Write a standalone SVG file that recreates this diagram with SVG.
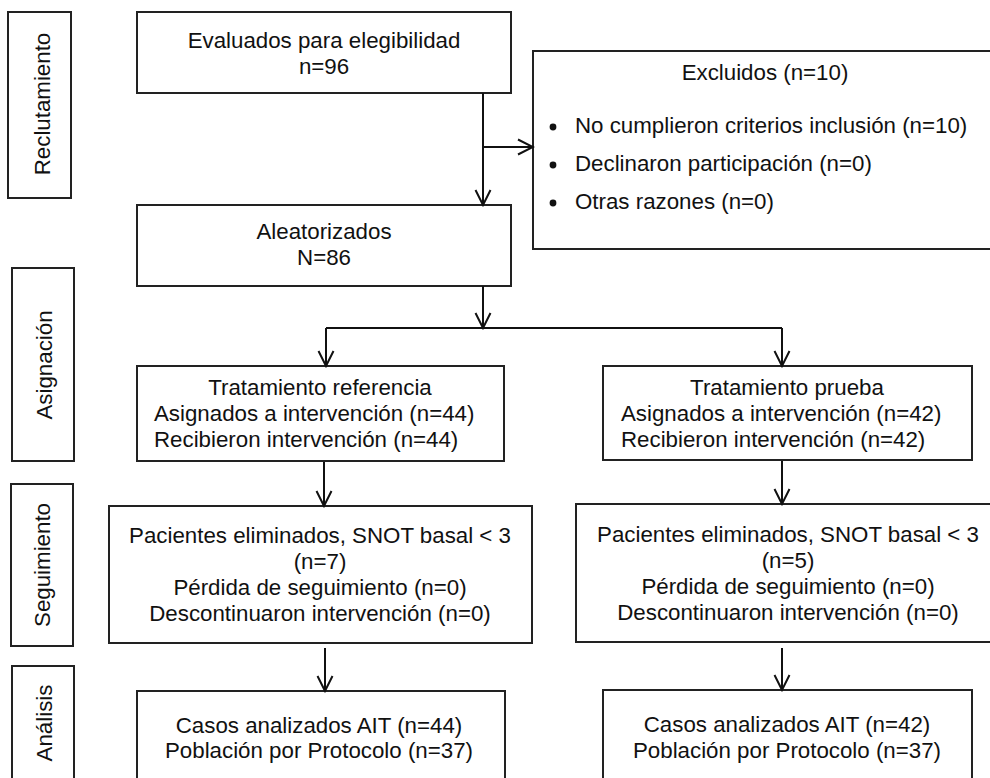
<svg xmlns="http://www.w3.org/2000/svg" width="990" height="778" viewBox="0 0 990 778">
<defs>
<style>
.box{fill:#fff;stroke:#222;stroke-width:2}
.t{font-family:"Liberation Sans",Arial,sans-serif;font-size:22.3px;fill:#111}
.c{text-anchor:middle}
.ln{fill:none;stroke:#111;stroke-width:2}
</style>
<marker id="ah" markerUnits="userSpaceOnUse" markerWidth="18" markerHeight="18" viewBox="0 0 18 18" refX="16" refY="9" orient="auto">
<path d="M1,1.5 L16,9 L1,16.5" fill="none" stroke="#111" stroke-width="2"/>
</marker>
</defs>
<rect width="990" height="778" fill="#fff"/>

<g id="label-reclutamiento">
<rect class="box" x="8" y="12" width="63" height="186"/>
<text class="t c" transform="translate(50,104) rotate(-90)">Reclutamiento</text>
</g>
<g id="label-asignacion">
<rect class="box" x="12" y="268" width="62" height="193"/>
<text class="t c" transform="translate(52,365) rotate(-90)">Asignación</text>
</g>
<g id="label-seguimiento">
<rect class="box" x="11" y="484" width="62" height="162"/>
<text class="t c" transform="translate(50,565) rotate(-90)">Seguimiento</text>
</g>
<g id="label-analisis">
<rect class="box" x="12" y="666" width="62" height="124"/>
<text class="t c" transform="translate(52,723) rotate(-90)">Análisis</text>
</g>

<g id="evaluados">
<rect class="box" x="137" y="12" width="374" height="81"/>
<text class="t c" x="324" y="48">Evaluados para elegibilidad</text>
<text class="t c" x="324" y="74">n=96</text>
</g>

<g id="excluidos">
<rect class="box" x="533" y="51" width="470" height="198"/>
<text class="t c" x="765" y="80">Excluidos (n=10)</text>
<circle cx="553" cy="127" r="3.4" fill="#111"/>
<text class="t" x="575" y="133">No cumplieron criterios inclusión (n=10)</text>
<circle cx="553" cy="165" r="3.4" fill="#111"/>
<text class="t" x="575" y="171">Declinaron participación (n=0)</text>
<circle cx="553" cy="203" r="3.4" fill="#111"/>
<text class="t" x="575" y="209">Otras razones (n=0)</text>
</g>

<g id="aleatorizados">
<rect class="box" x="137" y="205" width="374" height="81"/>
<text class="t c" x="324" y="239">Aleatorizados</text>
<text class="t c" x="324" y="265">N=86</text>
</g>

<g id="tratamiento-referencia">
<rect class="box" x="137" y="366" width="367" height="95"/>
<text class="t c" x="320" y="395">Tratamiento referencia</text>
<text class="t" x="154" y="421">Asignados a intervención (n=44)</text>
<text class="t" x="154" y="447">Recibieron intervención (n=44)</text>
</g>

<g id="tratamiento-prueba">
<rect class="box" x="603" y="366" width="369" height="94"/>
<text class="t c" x="787" y="395">Tratamiento prueba</text>
<text class="t" x="621" y="421">Asignados a intervención (n=42)</text>
<text class="t" x="621" y="447">Recibieron intervención (n=42)</text>
</g>

<g id="seguimiento-referencia">
<rect class="box" x="109" y="506" width="423" height="137"/>
<text class="t c" x="320" y="543">Pacientes eliminados, SNOT basal &lt; 3</text>
<text class="t c" x="320" y="569">(n=7)</text>
<text class="t c" x="320" y="595">Pérdida de seguimiento (n=0)</text>
<text class="t c" x="320" y="621">Descontinuaron intervención (n=0)</text>
</g>

<g id="seguimiento-prueba">
<rect class="box" x="576" y="504" width="430" height="138"/>
<text class="t c" x="788" y="542">Pacientes eliminados, SNOT basal &lt; 3</text>
<text class="t c" x="788" y="568">(n=5)</text>
<text class="t c" x="788" y="594">Pérdida de seguimiento (n=0)</text>
<text class="t c" x="788" y="620">Descontinuaron intervención (n=0)</text>
</g>

<g id="analisis-referencia">
<rect class="box" x="137" y="691" width="368" height="100"/>
<text class="t c" x="319" y="733">Casos analizados AIT (n=44)</text>
<text class="t c" x="319" y="758">Población por Protocolo (n=37)</text>
</g>

<g id="analisis-prueba">
<rect class="box" x="603" y="690" width="369" height="100"/>
<text class="t c" x="787" y="732">Casos analizados AIT (n=42)</text>
<text class="t c" x="787" y="758">Población por Protocolo (n=37)</text>
</g>

<g id="connectors">
<path class="ln" d="M483,93 V205" marker-end="url(#ah)"/>
<path class="ln" d="M483,147 H533" marker-end="url(#ah)"/>
<path class="ln" d="M483,286 V328" marker-end="url(#ah)"/>
<path class="ln" d="M326,328 H782"/>
<path class="ln" d="M326,328 V366" marker-end="url(#ah)"/>
<path class="ln" d="M782,328 V366" marker-end="url(#ah)"/>
<path class="ln" d="M324,462 V506" marker-end="url(#ah)"/>
<path class="ln" d="M782,461 V504" marker-end="url(#ah)"/>
<path class="ln" d="M325,648 V691" marker-end="url(#ah)"/>
<path class="ln" d="M782,648 V690" marker-end="url(#ah)"/>
</g>
</svg>
